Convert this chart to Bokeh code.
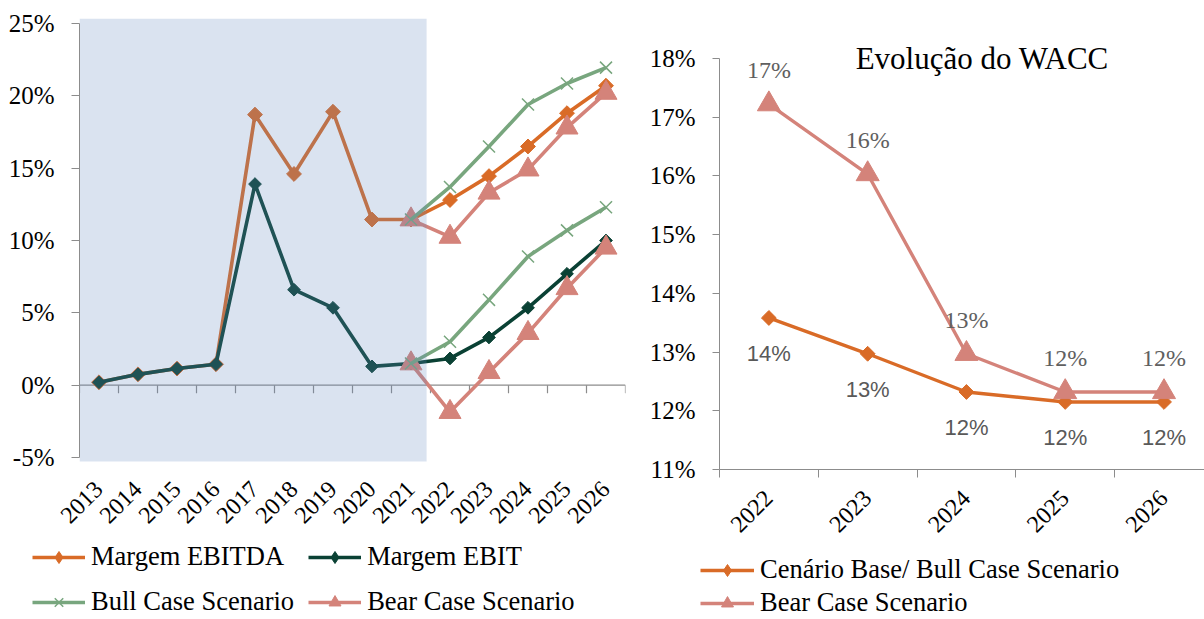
import numpy as np
from bokeh.plotting import figure
from bokeh.layouts import row, column
from bokeh.models import (FixedTicker, PrintfTickFormatter, Legend, LegendItem,
                          Label, ColumnDataSource)
from bokeh.core.properties import value
from bokeh.embed import file_html
from bokeh.resources import INLINE

# ---------------- data ----------------
years = [2013, 2014, 2015, 2016, 2017, 2018, 2019, 2020, 2021, 2022, 2023, 2024, 2025, 2026]
last_historical_year = 2021
margem_ebitda = [0.2, 0.75, 1.15, 1.45, 18.7, 14.6, 18.9, 11.45, 11.45, 12.8, 14.45, 16.5, 18.8, 20.7]
margem_ebit = [0.2, 0.75, 1.15, 1.45, 13.9, 6.6, 5.35, 1.3, 1.5, 1.85, 3.3, 5.35, 7.7, 10.0]

scenario_years = [2021, 2022, 2023, 2024, 2025, 2026]
bull_ebitda = [11.45, 13.7, 16.5, 19.4, 20.85, 21.95]
bull_ebit = [1.5, 3.0, 5.9, 8.9, 10.7, 12.3]
bear_ebitda = [11.45, 10.25, 13.3, 14.9, 17.8, 20.2]
bear_ebit = [1.5, -1.86, 0.9, 3.6, 6.7, 9.5]
left_ticks = [-5, 0, 5, 10, 15, 20, 25]

wacc_years = [2022, 2023, 2024, 2025, 2026]
wacc_base = [13.58, 12.97, 12.32, 12.15, 12.15]
wacc_bear = [17.22, 16.03, 12.97, 12.32, 12.32]
wacc_base_labels = ["14%", "13%", "12%", "12%", "12%"]
wacc_bear_labels = ["17%", "16%", "13%", "12%", "12%"]
right_ticks = [11, 12, 13, 14, 15, 16, 17, 18]

# ---------------- styles ----------------
C_EBITDA = "#D96B27"
C_EBIT = "#0A4134"
C_BULL = "#78A67E"
C_BEAR = "#D4837A"
C_AXIS = "#8C8C8C"
C_SHADE = "#658AC0"
SERIF = "Liberation Serif"

W_LEFT, W_RIGHT = 640, 564
HC = 542      # chart height
HL = 77       # legend strip height
BORDER_TOP = 18
BORDER_BOTTOM = HC - 471


def base_fig(width, x_range, y_range, left, right):
    f = figure(width=width, height=HC, output_backend="svg", toolbar_location=None,
               x_range=x_range, y_range=y_range,
               min_border_left=left, min_border_right=right,
               min_border_top=BORDER_TOP, min_border_bottom=BORDER_BOTTOM)
    f.outline_line_color = None
    f.xgrid.visible = False
    f.ygrid.visible = False
    f.background_fill_color = "white"
    f.border_fill_color = "white"
    return f


def style_yaxis(ax, ticks, size):
    ax.ticker = FixedTicker(ticks=ticks)
    ax.formatter = PrintfTickFormatter(format="%d%%")
    ax.bounds = (ticks[0], ticks[-1])
    ax.axis_line_color = C_AXIS
    ax.major_tick_line_color = C_AXIS
    ax.major_tick_in = 0
    ax.minor_tick_line_color = None
    ax.major_label_text_font = SERIF
    ax.major_label_text_font_size = size
    ax.major_label_text_color = "black"


# ================= left chart =================
y_lo, y_hi = -5.826, 25.344
shade_lo = -5.275
p = base_fig(W_LEFT, (years[0] - 0.5, years[-1] + 0.5), (y_lo, y_hi), 79, 15)
style_yaxis(p.yaxis[0], left_ticks, "25px")
p.yaxis.major_tick_out = 8
p.yaxis.major_label_standoff = 17

p.xaxis.ticker = FixedTicker(ticks=years)
p.xaxis.axis_line_color = None
p.xaxis.major_tick_line_color = None
p.xaxis.minor_tick_line_color = None
p.xaxis.major_tick_out = 0
p.xaxis.major_label_orientation = np.pi / 4
p.xaxis.major_label_text_font = SERIF
p.xaxis.major_label_text_font_size = "24px"
p.xaxis.major_label_text_color = "black"
p.xaxis.major_label_standoff = 16

# zero line with category-boundary ticks
bounds_x = np.arange(years[0] - 0.5, years[-1] + 1.0, 1.0)
p.segment(x0=[bounds_x[0]], y0=[0], x1=[bounds_x[-1]], y1=[0], line_color=C_AXIS, line_width=1.2)
p.segment(x0=bounds_x, y0=np.zeros_like(bounds_x), x1=bounds_x,
          y1=np.full_like(bounds_x, -0.55), line_color=C_AXIS, line_width=1.2)

LW = 3.6
p.line(years, margem_ebitda, line_color=C_EBITDA, line_width=LW)
p.scatter(years, margem_ebitda, marker="square", angle=np.pi / 4, size=10.5,
          fill_color=C_EBITDA, line_color=C_EBITDA)
p.line(years, margem_ebit, line_color=C_EBIT, line_width=LW)
p.scatter(years, margem_ebit, marker="square", angle=np.pi / 4, size=9,
          fill_color=C_EBIT, line_color=C_EBIT)

for ys in (bear_ebitda, bear_ebit):
    p.line(scenario_years, ys, line_color=C_BEAR, line_width=LW)
    p.scatter(scenario_years, ys, marker="triangle", size=22, fill_color=C_BEAR, line_color=C_BEAR)
for ys in (bull_ebitda, bull_ebit):
    p.line(scenario_years, ys, line_color=C_BULL, line_width=LW)
    p.scatter(scenario_years, ys, marker="x", size=17, line_color=C_BULL, line_width=1.5)

# historical period shading (semi-transparent, drawn over the lines)
p.quad(left=[years[0] - 0.5], right=[last_historical_year + 0.4], bottom=[shade_lo], top=[y_hi],
       fill_color=C_SHADE, fill_alpha=0.24, line_color=None)

# ================= right chart =================
q = base_fig(W_RIGHT, (wacc_years[0] - 0.5, 2026.41), (right_ticks[0], 18.678), 79, 0)
style_yaxis(q.yaxis[0], right_ticks, "25px")
q.yaxis.major_tick_out = 7
q.yaxis.major_label_standoff = 17

wb = list(np.arange(wacc_years[0] - 0.5, wacc_years[-1] + 1.0, 1.0))
q.xaxis.ticker = FixedTicker(ticks=wacc_years, minor_ticks=wb)
q.xaxis.axis_line_color = C_AXIS
q.xaxis.major_tick_line_color = None
q.xaxis.major_tick_out = 0
q.xaxis.minor_tick_line_color = C_AXIS
q.xaxis.minor_tick_out = 8
q.xaxis.minor_tick_in = 0
q.xaxis.major_label_orientation = np.pi / 4
q.xaxis.major_label_text_font = SERIF
q.xaxis.major_label_text_font_size = "24px"
q.xaxis.major_label_text_color = "black"
q.xaxis.major_label_standoff = 17

q.line(wacc_years, wacc_base, line_color=C_EBITDA, line_width=3.4)
q.scatter(wacc_years, wacc_base, marker="square", angle=np.pi / 4, size=10.5,
          fill_color=C_EBITDA, line_color=C_EBITDA)
q.line(wacc_years, wacc_bear, line_color=C_BEAR, line_width=3.4)
q.scatter(wacc_years, wacc_bear, marker="triangle", size=23, fill_color=C_BEAR, line_color=C_BEAR)

src_base = ColumnDataSource(dict(x=wacc_years, y=wacc_base, t=wacc_base_labels))
src_bear = ColumnDataSource(dict(x=wacc_years, y=wacc_bear, t=wacc_bear_labels))
q.text(x="x", y="y", text="t", source=src_bear, text_align="center", text_baseline="middle",
       y_offset=-34, text_font=value(SERIF), text_font_size="24px", text_color="#606060")
q.text(x="x", y="y", text="t", source=src_base, text_align="center", text_baseline="middle",
       y_offset=36, text_font=value("Liberation Sans"), text_font_size="22px", text_color="#595959")

q.add_layout(Label(x=2024.16, y=right_ticks[-1], text="Evolução do WACC", text_align="center",
                   text_baseline="middle", text_font=SERIF, text_font_size="31px",
                   text_color="black"))

# ================= legend strip =================
s = figure(width=W_LEFT + W_RIGHT, height=HL, output_backend="svg", toolbar_location=None,
           x_range=(0, 1), y_range=(0, 1), x_axis_type=None, y_axis_type=None, min_border=0)
s.outline_line_color = None
s.background_fill_color = "white"
s.border_fill_color = "white"

# legend renderers reuse the data, which lies outside this strip's ranges (not visible)
le_l = s.line(years, margem_ebitda, line_color=C_EBITDA, line_width=LW)
le_m = s.scatter(years, margem_ebitda, marker="diamond", fill_color=C_EBITDA, line_color=C_EBITDA)
lt_l = s.line(years, margem_ebit, line_color=C_EBIT, line_width=LW)
lt_m = s.scatter(years, margem_ebit, marker="diamond", fill_color=C_EBIT, line_color=C_EBIT)
lb_l = s.line(scenario_years, bull_ebitda, line_color=C_BULL, line_width=LW)
lb_m = s.scatter(scenario_years, bull_ebitda, marker="x", line_color=C_BULL, line_width=1.5)
lr_l = s.line(scenario_years, bear_ebitda, line_color=C_BEAR, line_width=LW)
lr_m = s.scatter(scenario_years, bear_ebitda, marker="triangle", fill_color=C_BEAR, line_color=C_BEAR)

wb_l = s.line(wacc_years, wacc_base, line_color=C_EBITDA, line_width=3.4)
wb_m = s.scatter(wacc_years, wacc_base, marker="diamond", fill_color=C_EBITDA, line_color=C_EBITDA)
wr_l = s.line(wacc_years, wacc_bear, line_color=C_BEAR, line_width=3.4)
wr_m = s.scatter(wacc_years, wacc_bear, marker="triangle", fill_color=C_BEAR, line_color=C_BEAR)

common = dict(label_text_font=SERIF, label_text_font_size="26.5px", label_text_color="black",
              glyph_height=30, label_height=30, padding=0, margin=0,
              border_line_color=None, background_fill_alpha=0)

leg1 = Legend(items=[
    LegendItem(label="Margem EBITDA", renderers=[le_l, le_m]),
    LegendItem(label="Margem EBIT", renderers=[lt_l, lt_m]),
    LegendItem(label="Bull Case Scenario", renderers=[lb_l, lb_m]),
    LegendItem(label="Bear Case Scenario", renderers=[lr_l, lr_m]),
], orientation="horizontal", ncols=2, location=(32, 2),
    glyph_width=53, label_standoff=6, spacing=14, **common)
s.add_layout(leg1)

leg2 = Legend(items=[
    LegendItem(label="Cenário Base/ Bull Case Scenario", renderers=[wb_l, wb_m]),
    LegendItem(label="Bear Case Scenario", renderers=[wr_l, wr_m]),
], orientation="vertical", location=(700, 1),
    glyph_width=54, label_standoff=6, spacing=2, **common)
s.add_layout(leg2)

layout = column(row(p, q), s)
open("out.html", "w").write(file_html(layout, INLINE))
